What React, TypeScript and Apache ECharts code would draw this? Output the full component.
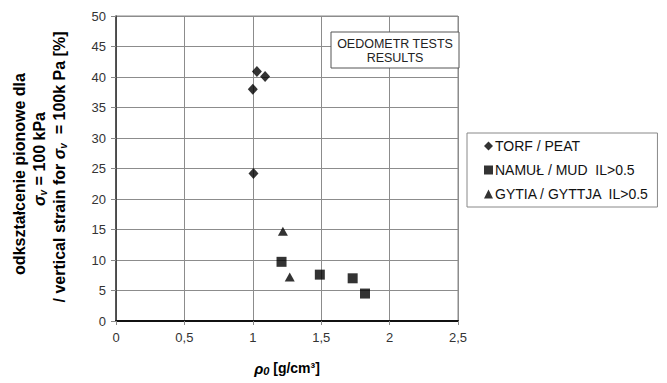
import React, { useEffect, useRef } from "react";
import * as echarts from "echarts";

const xTicks = [0, 0.5, 1, 1.5, 2, 2.5];
const yTicks = [0, 5, 10, 15, 20, 25, 30, 35, 40, 45, 50];

const peatX = [1.0, 1.03, 1.09, 1.005];
const peatY = [38.0, 40.9, 40.1, 24.2];
const mudX = [1.21, 1.49, 1.73, 1.82];
const mudY = [9.7, 7.6, 7.0, 4.5];
const gyttjaX = [1.22, 1.27];
const gyttjaY = [14.7, 7.2];

const seriesNames = ["TORF / PEAT", "NAMUŁ / MUD  IL>0.5", "GYTIA / GYTTJA  IL>0.5"];
const annotationLines = ["OEDOMETR TESTS", "RESULTS"];

const FONT = "'Liberation Sans', Arial, sans-serif";

export default function App() {
  const ref = useRef<HTMLDivElement>(null);
  useEffect(() => {
    if (!ref.current) return;
    const chart = echarts.init(ref.current, null, { renderer: "svg" });
    const zip = (xs: number[], ys: number[]) => xs.map((x, i) => [x, ys[i]]);
    const sub = {
      it: { fontStyle: "italic", fontWeight: "bold", fontSize: 16, fontFamily: FONT, fill: "#000" },
      sub: { fontStyle: "italic", fontWeight: "bold", fontSize: 10, fontFamily: FONT, fill: "#000", padding: [8, 0, 0, 0] },
      n: { fontWeight: "bold", fontSize: 16, fontFamily: FONT, fill: "#000" },
    };
    chart.setOption({
      animation: false,
      backgroundColor: "#fff",
      textStyle: { fontFamily: FONT },
      grid: {
        left: 116,
        top: 16,
        width: 342,
        height: 305,
        show: true,
        borderColor: "#888",
        borderWidth: 1,
        backgroundColor: "transparent",
      },
      xAxis: {
        type: "value",
        min: xTicks[0],
        max: xTicks[xTicks.length - 1],
        interval: 0.5,
        axisLine: { show: true, lineStyle: { color: "#111", width: 2 } },
        axisTick: { show: true, length: 4, lineStyle: { color: "#888" } },
        splitLine: { show: true, lineStyle: { color: "#8c8c8c", width: 1 } },
        axisLabel: {
          fontSize: 13,
          color: "#333",
          margin: 10,
          formatter: (v: number) => String(v).replace(".", ","),
        },
      },
      yAxis: {
        type: "value",
        min: yTicks[0],
        max: yTicks[yTicks.length - 1],
        interval: 5,
        axisLine: { show: true, lineStyle: { color: "#333", width: 1.5 } },
        axisTick: { show: true, length: 5, lineStyle: { color: "#888" } },
        splitLine: { show: true, lineStyle: { color: "#8c8c8c", width: 1 } },
        axisLabel: { fontSize: 13, color: "#333", margin: 10 },
      },
      legend: {
        orient: "vertical",
        left: 467,
        top: 133,
        width: 199,
        padding: [6, 8, 6, 17],
        itemGap: 10,
        itemWidth: 9,
        itemHeight: 9,
        borderColor: "#888",
        borderWidth: 1,
        backgroundColor: "#fff",
        textStyle: { fontSize: 14, color: "#111", padding: [0, 0, 0, -3] },
        data: seriesNames.map((n) => ({ name: n })),
      },
      series: [
        {
          name: seriesNames[0],
          type: "scatter",
          symbol: "diamond",
          symbolSize: [10, 11],
          itemStyle: { color: "#000" },
          data: zip(peatX, peatY),
        },
        {
          name: seriesNames[1],
          type: "scatter",
          symbol: "rect",
          symbolSize: 10,
          itemStyle: { color: "#000" },
          data: zip(mudX, mudY),
        },
        {
          name: seriesNames[2],
          type: "scatter",
          symbol: "triangle",
          symbolSize: [10, 9],
          itemStyle: { color: "#000" },
          data: zip(gyttjaX, gyttjaY),
        },
      ],
      graphic: [
        {
          type: "rect",
          z: 100,
          shape: { x: 331, y: 32, width: 128, height: 36 },
          style: { fill: "#fff", stroke: "#555", lineWidth: 1 },
        },
        {
          type: "text",
          z: 101,
          x: 395,
          y: 44,
          style: {
            text: annotationLines[0],
            fontSize: 12.5,
            fontFamily: FONT,
            fill: "#222",
            textAlign: "center",
            textVerticalAlign: "middle",
          },
        },
        {
          type: "text",
          z: 101,
          x: 395,
          y: 58,
          style: {
            text: annotationLines[1],
            fontSize: 12.5,
            fontFamily: FONT,
            fill: "#222",
            textAlign: "center",
            textVerticalAlign: "middle",
          },
        },
        {
          type: "text",
          x: 19,
          y: 174,
          rotation: Math.PI / 2,
          style: {
            text: "odkształcenie pionowe dla",
            fontSize: 16,
            fontWeight: "bold",
            fontFamily: FONT,
            fill: "#000",
            textAlign: "center",
            textVerticalAlign: "middle",
          },
        },
        {
          type: "text",
          x: 39,
          y: 159,
          rotation: Math.PI / 2,
          style: {
            text: "{it|σ}{sub|v}{n| = 100 kPa}",
            rich: sub,
            textAlign: "center",
            textVerticalAlign: "middle",
          },
        },
        {
          type: "text",
          x: 59,
          y: 167,
          rotation: Math.PI / 2,
          style: {
            text: "{n|/ vertical strain for }{it|σ}{sub|v}{n|  = 100k Pa [%]}",
            rich: sub,
            textAlign: "center",
            textVerticalAlign: "middle",
          },
        },
        {
          type: "text",
          x: 287,
          y: 368,
          style: {
            text: "{it|ρ}{sub|0}{n| [g/cm³]}",
            rich: {
              it: { fontStyle: "italic", fontWeight: "bold", fontSize: 15, fontFamily: FONT, fill: "#000" },
              sub: { fontStyle: "italic", fontWeight: "bold", fontSize: 11, fontFamily: FONT, fill: "#000", padding: [6, 0, 0, 0] },
              n: { fontWeight: "bold", fontSize: 14, fontFamily: FONT, fill: "#000" },
            },
            textAlign: "center",
            textVerticalAlign: "middle",
          },
        },
      ],
    });
    return () => chart.dispose();
  }, []);
  return (
    <div
      ref={ref}
      style={{ position: "fixed", left: 0, top: 0, width: 667, height: 383 }}
    />
  );
}
